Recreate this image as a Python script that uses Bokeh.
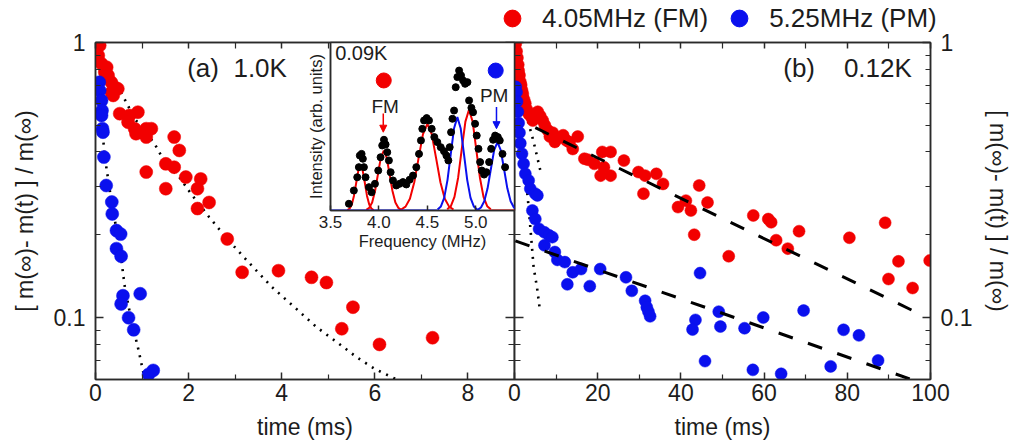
from bokeh.plotting import figure
from bokeh.models import (Range1d, FixedTicker, LinearAxis, LogAxis, LogScale,
                          CustomJSTickFormatter, Label, Legend, LegendItem, Arrow,
                          NormalHead)
from bokeh.embed import file_html
from bokeh.resources import INLINE

# ---------------- data ----------------
# panel (a) 1.0 K, time in ms
A_FM_T = [0.09, 0.06, 0.13, 0.24, 0.20, 0.27, 0.34, 0.41, 0.48, 0.34, 0.38, 0.52, 0.73, 0.91, 0.70,
          0.84, 0.87, 1.09, 1.20, 1.09, 1.09, 1.69, 1.80, 1.51, 1.69, 1.51, 1.94, 2.26, 2.19, 2.44,
          2.19, 2.83, 3.15, 3.93, 4.64, 4.96, 5.53, 5.29, 6.10, 7.24]
A_FM_V = [0.975, 0.897, 0.837, 0.813, 0.780, 0.759, 0.717, 0.688, 0.679, 0.659, 0.642, 0.551, 0.543,
          0.558, 0.513, 0.486, 0.466, 0.486, 0.486, 0.453, 0.338, 0.453, 0.405, 0.362, 0.352, 0.294,
          0.324, 0.319, 0.294, 0.262, 0.249, 0.193, 0.146, 0.148, 0.140, 0.134, 0.109, 0.091, 0.0798,
          0.0844]
A_PM_T = [0.08, 0.09, 0.13, 0.14, 0.13, 0.15, 0.16, 0.18, 0.23, 0.35, 0.36, 0.45, 0.54, 0.45, 0.55,
          0.59, 0.55, 0.96, 0.71, 0.82, 1.14, 1.24]
A_PM_V = [0.717, 0.669, 0.615, 0.566, 0.543, 0.486, 0.472, 0.383, 0.302, 0.263, 0.238, 0.207, 0.201,
          0.178, 0.167, 0.120, 0.112, 0.122, 0.0998, 0.0902, 0.0621, 0.0642]
A_FM_FIT_T = [0, 0.06, 0.23, 0.41, 0.66, 0.84, 1.05, 1.27, 1.51, 1.8, 2.05, 2.44, 2.83, 3.3, 3.79,
              4.3, 4.75, 5.2, 5.61, 6.0, 6.47]
A_FM_FIT_V = [1.0, 0.935, 0.813, 0.727, 0.607, 0.528, 0.479, 0.428, 0.362, 0.324, 0.282, 0.232,
              0.193, 0.158, 0.129, 0.108, 0.0922, 0.081, 0.0717, 0.065, 0.0595]
A_PM_FIT_T = [0.06, 0.09, 0.2, 0.34, 0.52, 0.63, 0.77, 0.91, 1.02, 1.06]
A_PM_FIT_V = [0.738, 0.615, 0.383, 0.266, 0.18, 0.129, 0.0976, 0.078, 0.064, 0.0595]

# panel (b) 0.12 K, time in ms
B_FM_T = [0.3, 0.5, 0.7, 0.9, 1.0, 1.2, 1.4, 1.6, 1.8, 2.0, 2.3, 2.6, 3.0, 3.4, 3.9, 4.4, 5.0, 5.6,
          6.2, 6.8, 7.3, 8.0, 8.5, 9.2, 9.7, 10.6, 11.7, 12.5, 13.2, 14.0, 15.2, 16.8, 17.6, 19.2,
          20.7, 21.1, 21.5, 23.1, 23.1, 26.3, 29.8, 31.0, 31.4, 34.1, 35.7, 39.3, 41.2, 42.4, 43.2,
          44.4, 46.4, 51.5, 57.4, 61.0, 61.7, 62.9, 65.7, 68.4, 80.5, 89.1, 89.9, 92.3, 95.7, 99.8]
B_FM_V = [0.99, 0.93, 0.88, 0.83, 0.79, 0.76, 0.72, 0.70, 0.67, 0.65, 0.62, 0.60, 0.57, 0.55, 0.54,
          0.52, 0.55, 0.56, 0.54, 0.52, 0.50, 0.48, 0.455, 0.47, 0.435, 0.45, 0.46, 0.44, 0.434,
          0.41, 0.455, 0.378, 0.375, 0.362, 0.328, 0.40, 0.352, 0.40, 0.328, 0.372, 0.338, 0.282,
          0.328, 0.333, 0.306, 0.252, 0.266, 0.245, 0.20, 0.302, 0.262, 0.167, 0.235, 0.228, 0.222,
          0.191, 0.178, 0.206, 0.195, 0.221, 0.138, 0.160, 0.128, 0.161]
B_PM_T = [0.3, 0.5, 0.6, 0.8, 1.0, 1.2, 1.4, 1.8, 2.2, 2.6, 3.4, 3.8, 5.0, 5.5, 4.3, 5.0, 5.9, 7.2,
          8.3, 9.1, 7.2, 9.7, 10.3, 12.1, 14.0, 16.0, 20.6, 12.7, 18.1, 26.8, 28.2, 31.4, 31.8, 32.2,
          32.6, 44.6, 43.5, 42.8, 49.1, 49.5, 55.3, 59.8, 69.5, 79.1, 82.8, 45.8, 57.3, 64.1, 76.0,
          87.4]
B_PM_V = [0.69, 0.66, 0.61, 0.56, 0.51, 0.47, 0.43, 0.394, 0.362, 0.333, 0.315, 0.294, 0.282, 0.278,
          0.245, 0.228, 0.21, 0.204, 0.199, 0.196, 0.183, 0.173, 0.162, 0.159, 0.146, 0.150, 0.150,
          0.132, 0.130, 0.140, 0.125, 0.115, 0.109, 0.105, 0.101, 0.145, 0.098, 0.0904, 0.105,
          0.0927, 0.0914, 0.100, 0.106, 0.0902, 0.0861, 0.0694, 0.0645, 0.0624, 0.0664, 0.0698]
B_FM_FAST_T = [0.1, 0.63, 1.42, 2.2, 3.4, 4.2, 4.8, 5.75, 6.2]
B_FM_FAST_V = [1.0, 0.86, 0.738, 0.642, 0.506, 0.459, 0.422, 0.367, 0.343]
B_PM_FAST_T = [0.3, 1.0, 1.8, 2.5, 3.0, 3.4, 3.8, 4.2, 4.6, 5.4, 6.15]
B_PM_FAST_V = [0.72, 0.55, 0.42, 0.34, 0.29, 0.252, 0.213, 0.18, 0.152, 0.129, 0.105]
B_FM_SLOW_T = [5.0, 95.7]
B_FM_SLOW_V = [0.49, 0.106]
B_PM_SLOW_T = [0.2, 95.0]
B_PM_SLOW_V = [0.19, 0.0598]

# inset: NMR spectrum at 0.09 K
SPEC_F = [3.690, 3.741, 3.776, 3.793, 3.803, 3.821, 3.834, 3.845, 3.862, 3.897, 3.924, 3.959, 3.993,
          4.017, 4.034, 4.052, 4.069, 4.086, 4.103, 4.121, 4.145, 4.179, 4.214, 4.248, 4.283, 4.317,
          4.352, 4.386, 4.414, 4.434, 4.448, 4.466, 4.493, 4.517, 4.545, 4.572, 4.603, 4.638, 4.672,
          4.697, 4.717, 4.731, 4.745, 4.759, 4.776, 4.793, 4.810, 4.828, 4.848, 4.869, 4.890, 4.914,
          4.931, 4.955, 4.972, 4.993, 5.010, 5.028, 5.045, 5.062, 5.086, 5.110, 5.138, 5.159, 5.179,
          5.200, 5.228, 5.248, 5.276, 5.303]
SPEC_I = [0.040, 0.119, 0.198, 0.258, 0.327, 0.337, 0.308, 0.258, 0.198, 0.139, 0.109, 0.159, 0.238,
          0.317, 0.387, 0.421, 0.393, 0.347, 0.298, 0.228, 0.179, 0.149, 0.159, 0.169, 0.155, 0.183,
          0.208, 0.258, 0.337, 0.417, 0.486, 0.536, 0.550, 0.536, 0.486, 0.437, 0.407, 0.377, 0.353,
          0.327, 0.298, 0.377, 0.466, 0.546, 0.595, 0.734, 0.794, 0.833, 0.804, 0.774, 0.754, 0.764,
          0.655, 0.611, 0.585, 0.516, 0.446, 0.367, 0.288, 0.238, 0.214, 0.228, 0.288, 0.367, 0.421,
          0.446, 0.437, 0.417, 0.337, 0.258]
# fitted lines (red: FM sites, blue: PM sites), read point by point
RED_FIT_F = [
    [3.675, 3.698, 3.72, 3.742, 3.765, 3.787, 3.81, 3.833, 3.855, 3.877, 3.90, 3.922, 3.945],
    [3.87, 3.90, 3.93, 3.96, 3.99, 4.02, 4.05, 4.08, 4.11, 4.14, 4.17, 4.20, 4.23],
    [4.23, 4.275, 4.32, 4.365, 4.41, 4.455, 4.5, 4.545, 4.59, 4.635, 4.68, 4.725, 4.77],
    [4.705, 4.743, 4.78, 4.818, 4.855, 4.893, 4.93, 4.968, 5.005, 5.043, 5.08, 5.118, 5.155],
    [5.15, 5.40],
]
RED_FIT_I = [
    [0.003, 0.012, 0.036, 0.087, 0.163, 0.236, 0.268, 0.236, 0.163, 0.087, 0.036, 0.012, 0.003],
    [0.004, 0.016, 0.048, 0.116, 0.217, 0.315, 0.357, 0.315, 0.217, 0.116, 0.048, 0.016, 0.004],
    [0.006, 0.023, 0.070, 0.168, 0.313, 0.455, 0.516, 0.455, 0.313, 0.168, 0.070, 0.023, 0.006],
    [0.007, 0.026, 0.081, 0.195, 0.364, 0.529, 0.600, 0.529, 0.364, 0.195, 0.081, 0.026, 0.007],
    [0.0, 0.0],
]
BLUE_FIT_F = [
    [3.5, 4.606],
    [4.606, 4.64, 4.674, 4.708, 4.742, 4.776, 4.81, 4.844, 4.878, 4.912, 4.946, 4.98, 5.014],
    [5.014, 5.02, 5.054, 5.088, 5.122, 5.156, 5.19, 5.224, 5.258, 5.292, 5.326, 5.36, 5.394, 5.428],
]
BLUE_FIT_I = [
    [0.0, 0.0],
    [0.006, 0.024, 0.075, 0.181, 0.337, 0.490, 0.556, 0.490, 0.337, 0.181, 0.075, 0.024, 0.006],
    [0.0, 0.004, 0.018, 0.055, 0.132, 0.247, 0.359, 0.407, 0.359, 0.247, 0.132, 0.055, 0.018, 0.004],
]

# axis ticks / labels
A_XTICKS = [0, 2, 4, 6, 8]
A_XMINOR = [1, 3, 5, 7]
B_XTICKS = [0, 20, 40, 60, 80, 100]
B_XMINOR = [10, 30, 50, 70, 90]
Y_TICKS = [0.1, 1.0]
Y_MINOR = [0.07, 0.08, 0.09, 0.2, 0.3, 0.4, 0.5, 0.6, 0.7, 0.8, 0.9]
INSET_XTICKS = [3.5, 4.0, 4.5, 5.0]
LEGEND_LABELS = ["4.05MHz (FM)", "5.25MHz (PM)"]
Y_LABEL = "[ m(\u221e)- m(t) ] / m(\u221e)"
X_LABEL = "time (ms)"
NB = "\u00a0"
LABEL_A = "(a)" + NB * 2 + "1.0K"
LABEL_B = "(b)" + NB * 4 + "0.12K"

# ---------------- style ----------------
FONT = "Liberation Sans"
TXT = "#1c1c1c"
RED = "#f20000"
BLUE = "#0a10ee"
AX = "#2a2a2a"
W, H = 1006, 436
FT, FB = 34, H - 371
POS = {"position": "absolute", "left": "8px", "top": "8px"}

NUMFMT = "return String(Number(tick.toPrecision(3)));"


def base_fig(xr, yr, log, bl, br, bt, bb, height=H, top="8px"):
    p = figure(width=W, height=height, x_range=xr, y_range=yr,
               y_axis_type="log" if log else "linear",
               x_axis_location=None, y_axis_location=None,
               output_backend="svg", toolbar_location=None,
               min_border_left=bl, min_border_right=br, min_border_top=bt, min_border_bottom=bb,
               styles={"position": "absolute", "left": "8px", "top": top})
    if log:
        p.y_scale = LogScale()
    p.xgrid.visible = False
    p.ygrid.visible = False
    p.outline_line_color = AX
    p.outline_line_width = 1.5
    p.background_fill_color = "white"
    p.border_fill_color = None
    return p


def add_axis(p, side, log, ticks, minor, labels=True, tin=8, tout=0, min_in=5, min_out=0,
             fmt=NUMFMT, standoff=8, label=None, label_standoff=4, font="23px",
             label_font="23px"):
    cls = LogAxis if log else LinearAxis
    ax = cls(ticker=FixedTicker(ticks=ticks, minor_ticks=minor),
             formatter=CustomJSTickFormatter(code=fmt if labels else "return '';"))
    ax.axis_line_color = AX
    ax.axis_line_width = 1.5
    ax.major_tick_line_color = AX
    ax.minor_tick_line_color = AX
    ax.major_tick_line_width = 1.5
    ax.minor_tick_line_width = 1.2
    ax.major_tick_in = tin
    ax.major_tick_out = tout
    ax.minor_tick_in = min_in
    ax.minor_tick_out = min_out
    ax.major_label_standoff = standoff if labels else 0
    ax.major_label_text_font = FONT
    ax.major_label_text_color = TXT
    ax.major_label_text_font_size = font if labels else "0px"
    if label:
        ax.axis_label = label
        ax.axis_label_text_font = FONT
        ax.axis_label_text_font_style = "normal"
        ax.axis_label_text_font_size = label_font
        ax.axis_label_text_color = TXT
        ax.axis_label_standoff = label_standoff
    p.add_layout(ax, side)
    return ax


YMIN = 0.0595

# ---------------- panel (a) ----------------
pA = base_fig(Range1d(0, 9), Range1d(YMIN, 1.0), True, 83, W - 506, FT, FB)
pA.border_fill_color = "white"
add_axis(pA, "left", True, Y_TICKS, Y_MINOR, standoff=10, label=Y_LABEL, label_standoff=13)
add_axis(pA, "below", False, A_XTICKS, A_XMINOR, tin=7, standoff=4, label=X_LABEL, label_standoff=10)
add_axis(pA, "above", False, A_XTICKS, A_XMINOR, labels=False, tin=6, min_in=6)

pA.line(A_FM_FIT_T, A_FM_FIT_V, line_color="black", line_width=2.6, line_dash="2 6")
pA.line(A_PM_FIT_T, A_PM_FIT_V, line_color="black", line_width=2.6, line_dash="2 6")
pA.scatter(A_FM_T, A_FM_V, size=13, fill_color=RED, line_color=RED, line_alpha=0.5)
pA.scatter(A_PM_T, A_PM_V, size=13, fill_color=BLUE, line_color=BLUE, line_alpha=0.5)
pA.add_layout(Label(x=1.97, y=0.81, text=LABEL_A, text_font=FONT, text_font_size="26px",
                    text_color=TXT, text_baseline="middle", text_align="left"))

# ---------------- panel (b) ----------------
pB = base_fig(Range1d(0, 100), Range1d(YMIN, 1.0), True, 506, W - 929, FT, FB)
add_axis(pB, "left", True, Y_TICKS, Y_MINOR, labels=False, tin=9, tout=9, min_in=6, min_out=6)
add_axis(pB, "right", True, Y_TICKS, Y_MINOR, standoff=10, label=Y_LABEL, label_standoff=10)
add_axis(pB, "below", False, B_XTICKS, B_XMINOR, tin=7, standoff=4, label=X_LABEL, label_standoff=10)
add_axis(pB, "above", False, B_XTICKS, B_XMINOR, labels=False, tin=6, min_in=6)

pB.line(B_FM_FAST_T, B_FM_FAST_V, line_color="black", line_width=2.6, line_dash="2 6")
pB.line(B_PM_FAST_T, B_PM_FAST_V, line_color="black", line_width=2.6, line_dash="2 6")
pB.scatter(B_FM_T, B_FM_V, size=12, fill_color=RED, line_color=RED, line_alpha=0.5)
pB.scatter(B_PM_T, B_PM_V, size=12, fill_color=BLUE, line_color=BLUE, line_alpha=0.5)
pB.line(B_FM_SLOW_T, B_FM_SLOW_V, line_color="black", line_width=3, line_dash="15 16")
pB.line(B_PM_SLOW_T, B_PM_SLOW_V, line_color="black", line_width=3, line_dash="15 16")
pB.add_layout(Label(x=64.6, y=0.81, text=LABEL_B, text_font=FONT, text_font_size="26px",
                    text_color=TXT, text_baseline="middle", text_align="left"))

# ---------------- inset ----------------
pI = base_fig(Range1d(3.5, 5.4), Range1d(0, 1.0), False, 322, W - 506, FT, H - 202)
add_axis(pI, "below", False, INSET_XTICKS, [], tin=5, min_in=0, standoff=5,
         fmt="return tick.toFixed(1);", font="17px", label="Frequency (MHz)",
         label_standoff=1, label_font="16.5px")
add_axis(pI, "left", False, [], [], labels=False, tin=0, min_in=0,
         label="Intensity (arb. units)", label_standoff=6, label_font="16.5px")

for f, i in zip(RED_FIT_F, RED_FIT_I):
    pI.line(f, i, line_color=RED, line_width=2)
for f, i in zip(BLUE_FIT_F, BLUE_FIT_I):
    pI.line(f, i, line_color=BLUE, line_width=2)
pI.scatter(SPEC_F, SPEC_I, size=7, fill_color="black", line_color="black")

pI.scatter([4.05], [0.774], size=15, fill_color=RED, line_color=RED)
pI.scatter([5.206], [0.833], size=15, fill_color=BLUE, line_color=BLUE)
pI.add_layout(Label(x=3.548, y=0.935, text="0.09K", text_font=FONT, text_font_size="20px",
                    text_color=TXT, text_baseline="middle", text_align="left"))
pI.add_layout(Label(x=4.065, y=0.62, text="FM", text_font=FONT, text_font_size="19px",
                    text_color=TXT, text_baseline="middle", text_align="center"))
pI.add_layout(Label(x=5.19, y=0.685, text="PM", text_font=FONT, text_font_size="19px",
                    text_color=TXT, text_baseline="middle", text_align="center"))
pI.add_layout(Arrow(end=NormalHead(size=7, fill_color=RED, line_color=RED),
                    x_start=4.045, y_start=0.577, x_end=4.045, y_end=0.466,
                    line_color=RED, line_width=1.5))
pI.add_layout(Arrow(end=NormalHead(size=7, fill_color=BLUE, line_color=BLUE),
                    x_start=5.214, y_start=0.616, x_end=5.214, y_end=0.487,
                    line_color=BLUE, line_width=1.5))

# ---------------- legend (own transparent layer at the top of the window) ----------------
pL = base_fig(Range1d(0, 1), Range1d(0, 1), False, 480, W - 1000, 0, 30, height=100, top="0px")
pL.outline_line_color = None
pL.background_fill_color = None
# one hidden point each (outside the 0..1 ranges) so the legend has a glyph to draw
leg_r = pL.scatter([-5], [-5], fill_color=RED, line_color=RED)
leg_b = pL.scatter([-5], [-5], fill_color=BLUE, line_color=BLUE)
legend = Legend(items=[LegendItem(label=LEGEND_LABELS[0], renderers=[leg_r]),
                       LegendItem(label=LEGEND_LABELS[1], renderers=[leg_b])],
                orientation="horizontal", location=(3, 31),
                padding=0, margin=0, border_line_color=None, background_fill_alpha=0,
                glyph_width=42, glyph_height=42, label_standoff=9, spacing=10,
                label_text_font=FONT, label_text_font_size="26px", label_text_color=TXT)
pL.add_layout(legend)

open("out.html", "w").write(file_html([pA, pB, pI, pL], INLINE))
